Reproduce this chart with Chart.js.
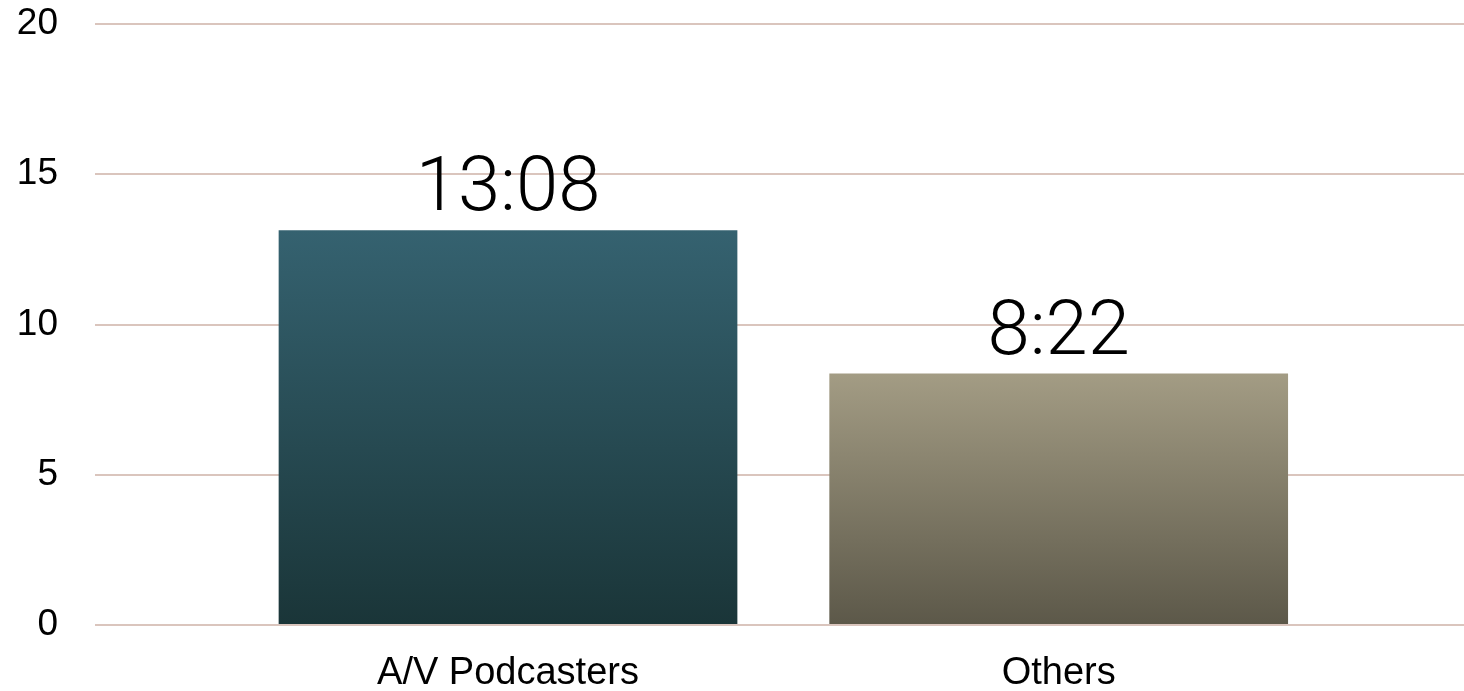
<!DOCTYPE html>
<html>
<head>
<meta charset="utf-8">
<script src="https://cdn.jsdelivr.net/npm/chart.js@4/dist/chart.umd.min.js"></script>
<style>
  html, body { margin: 0; padding: 0; background: #fff; }
  #wrap { width: 1464px; height: 691px; }
</style>
</head>
<body>
<div id="wrap"><canvas id="grafico" width="1464" height="691"></canvas></div>
<script>
const categorias = ['A/V Podcasters', 'Others']
const horas = [13 + 8 / 60, 8 + 22 / 60]
const rotulos = ['13:08', '8:22']
const ticksY = [0, 5, 10, 15, 20]

const coresTopo = ['#356270', '#a39c84']
const coresBase = ['#1a3538', '#5c5849']

const fonte = '"Liberation Sans", Arial, Helvetica, sans-serif'

// rotulo grande em cima de cada barra
const rotuloBarras = {
  id: 'rotuloBarras',
  afterDatasetsDraw(chart) {
    const ctx = chart.ctx
    const meta = chart.getDatasetMeta(0)
    ctx.save()
    ctx.fillStyle = '#000'
    ctx.font = '300 76px Roboto, ' + fonte
    ctx.textAlign = 'center'
    ctx.textBaseline = 'alphabetic'
    meta.data.forEach((bar, i) => {
      ctx.fillText(rotulos[i], bar.x, bar.y - 20)
    })
    ctx.restore()
  }
}

function gradiente(context) {
  const chart = context.chart
  if (!chart.chartArea || !context.parsed) return coresTopo[context.dataIndex]
  const y = chart.scales.y
  const topo = y.getPixelForValue(context.parsed.y)
  const base = y.getPixelForValue(0)
  const g = chart.ctx.createLinearGradient(0, topo, 0, base)
  g.addColorStop(0, coresTopo[context.dataIndex])
  g.addColorStop(1, coresBase[context.dataIndex])
  return g
}

new Chart(document.getElementById('grafico'), {
  type: 'bar',
  data: {
    datasets: [{
      data: horas.map((v, i) => ({ x: i, y: v })),
      backgroundColor: gradiente,
      borderWidth: 0,
      barPercentage: 1,
      categoryPercentage: 0.833
    }]
  },
  plugins: [rotuloBarras],
  options: {
    responsive: false,
    animation: false,
    layout: { padding: { top: 24, right: 0, bottom: 0, left: 0 } },
    plugins: {
      legend: { display: false },
      tooltip: { enabled: false }
    },
    scales: {
      x: {
        type: 'linear',
        offset: false,
        min: -0.75,
        max: 1.736,
        grid: { display: false },
        border: { display: false },
        afterBuildTicks: (scale) => {
          scale.ticks = categorias.map((c, i) => ({ value: i }))
        },
        afterFit: (scale) => {
          scale.height = 66
          scale.paddingLeft = 0
          scale.paddingRight = 0
        },
        ticks: {
          autoSkip: false,
          maxRotation: 0,
          padding: 18,
          color: '#000',
          font: { family: fonte, size: 38 },
          callback: (v) => categorias[v]
        }
      },
      y: {
        min: 0,
        max: 20,
        afterBuildTicks: (scale) => {
          scale.ticks = ticksY.map((v) => ({ value: v }))
        },
        afterFit: (scale) => {
          scale.width = 95
          scale.paddingTop = 0
          scale.paddingBottom = 0
        },
        grid: { color: '#dac5bd', lineWidth: 2, drawTicks: false },
        border: { display: false },
        ticks: {
          padding: 37,
          color: '#000',
          font: { family: fonte, size: 37 }
        }
      }
    }
  }
})
</script>
</body>
</html>
